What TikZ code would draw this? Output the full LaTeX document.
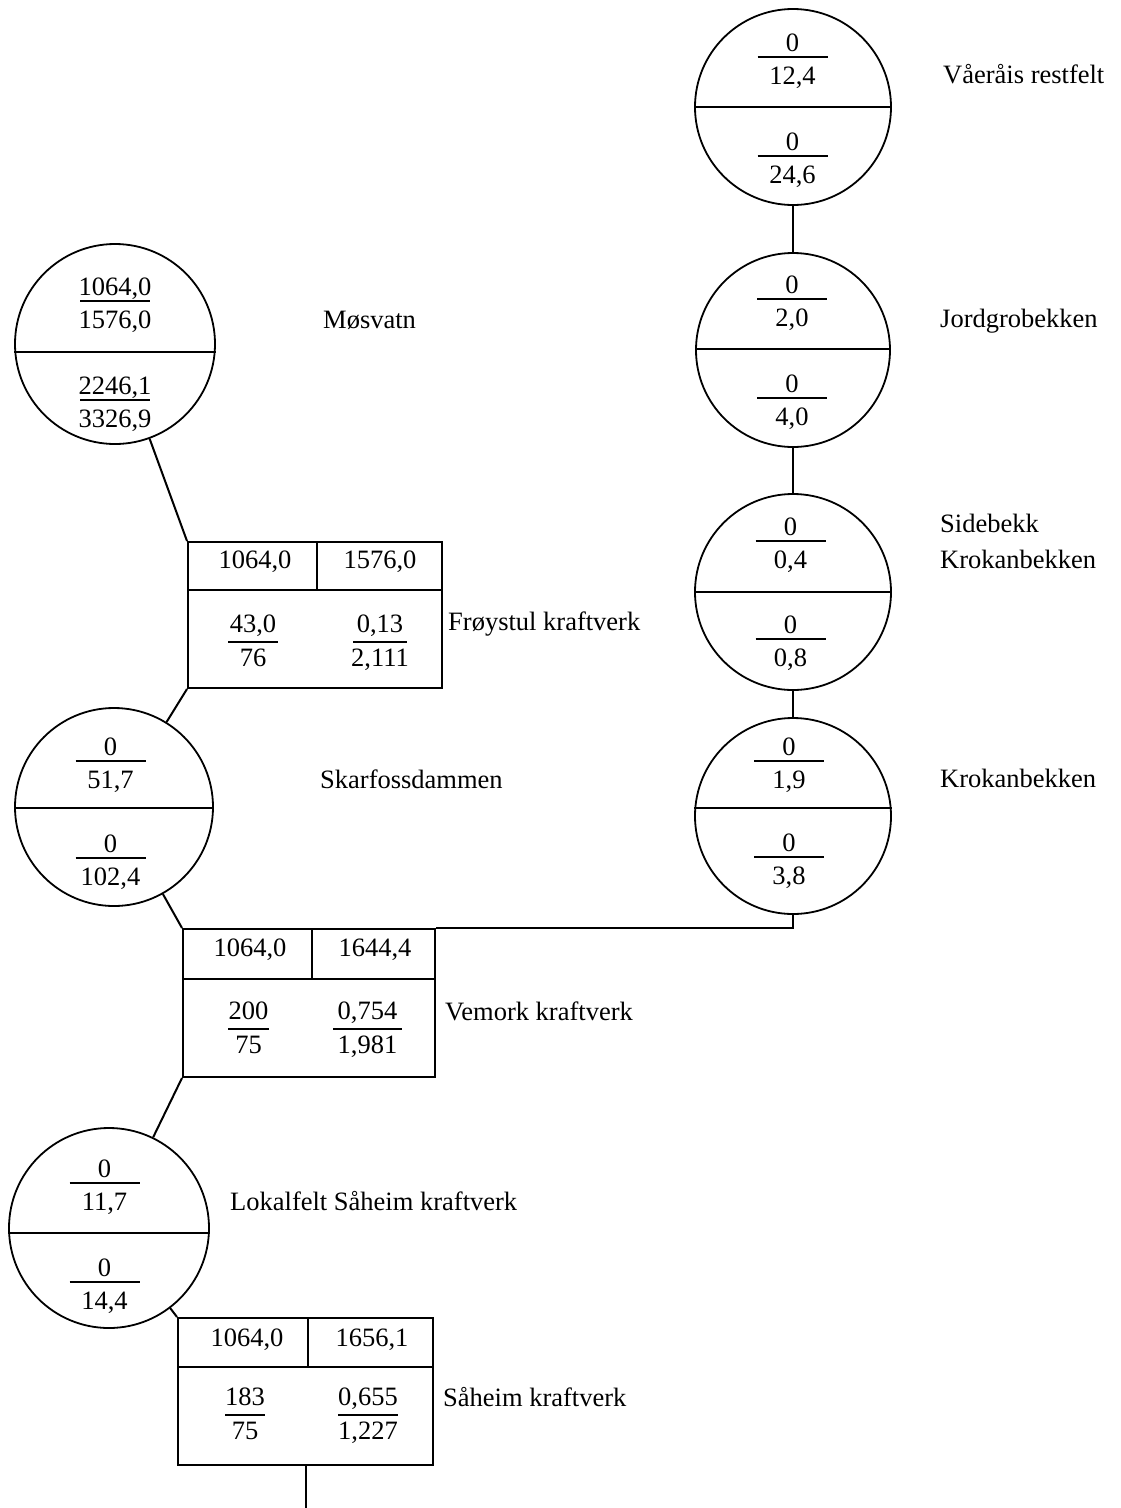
\documentclass[tikz,border=0pt]{standalone}
\usepackage{fontspec}
\setmainfont{Liberation Serif}
\usetikzlibrary{calc}
\tikzset{
  circ/.style={circle, draw, inner sep=0pt, line width=1.8pt},
  boxnode/.style={rectangle, draw, inner sep=0pt, line width=2pt},
  conn/.style={line width=2pt},
  inner/.style={line width=1.9pt},
  bar/.style={line width=2pt},
  num/.style={inner sep=0pt, anchor=base},
  lbl/.style={inner sep=0pt, anchor=base west}
}
% circle fraction: name, x, ybar, width, top, bottom
\newcommand\cfr[6]{%
  \node[num] (#1a) at (#2,#3-6) {#5};
  \node[num] (#1b) at (#2,#3+27) {#6};
  \draw[bar] (#2-#4/2,#3) -- (#2+#4/2,#3);}
% box fraction
\newcommand\bfr[6]{%
  \node[num] (#1a) at (#2,#3-10) {#5};
  \node[num] (#1b) at (#2,#3+24) {#6};
  \draw[bar] (#2-#4/2,#3) -- (#2+#4/2,#3);}
\begin{document}
\begin{tikzpicture}[x=1pt,y=-1pt,font=\fontsize{26.5}{30}\selectfont]
\useasboundingbox (0,0) rectangle (1121,1508);

% ---- circles (right chain)
\node[circ, minimum size=196pt] (vaer) at (793,107) {};
\draw[inner] (vaer.west) -- (vaer.east);
\cfr{vaerU}{792.5}{57}{70}{0}{12,4}
\cfr{vaerL}{792.5}{156}{70}{0}{24,6}
\node[lbl] (vaerT) at (943,83) {Våeråis restfelt};

\node[circ, minimum size=194pt] (jord) at (793,350) {};
\draw[inner] ([yshift=1pt]jord.west) -- ([yshift=1pt]jord.east);
\cfr{jordU}{792}{299}{70}{0}{2,0}
\cfr{jordL}{792}{398}{70}{0}{4,0}
\node[lbl] (jordT) at (940,327) {Jordgrobekken};

\node[circ, minimum size=196pt] (side) at (793,592) {};
\draw[inner] (side.west) -- (side.east);
\cfr{sideU}{790.5}{541}{70}{0}{0,4}
\cfr{sideL}{790.5}{639}{70}{0}{0,8}
\node[lbl] (sideT1) at (940,532) {Sidebekk};
\node[lbl] (sideT2) at (940,568) {Krokanbekken};

\node[circ, minimum size=196pt] (krok) at (793,816) {};
\draw[inner] ([yshift=8pt]krok.west) -- ([yshift=8pt]krok.east);
\cfr{krokU}{789}{761}{70}{0}{1,9}
\cfr{krokL}{789}{857}{70}{0}{3,8}
\node[lbl] (krokT) at (940,787) {Krokanbekken};

% ---- circles (left chain)
\node[circ, minimum size=200pt] (mos) at (115,344) {};
\draw[inner] ([yshift=-8pt]mos.west) -- ([yshift=-8pt]mos.east);
\cfr{mosU}{115}{301}{70}{1064,0}{1576,0}
\cfr{mosL}{115}{400}{70}{2246,1}{3326,9}
\node[lbl] (mosT) at (323,328) {Møsvatn};

\node[circ, minimum size=198pt] (skar) at (114,807) {};
\draw[inner] ([yshift=-1pt]skar.west) -- ([yshift=-1pt]skar.east);
\cfr{skarU}{110.5}{761}{70}{0}{51,7}
\cfr{skarL}{110.5}{858}{70}{0}{102,4}
\node[lbl] (skarT) at (320,788) {Skarfossdammen};

\node[circ, minimum size=200pt] (lok) at (109,1228) {};
\draw[inner] ([yshift=-5pt]lok.west) -- ([yshift=-5pt]lok.east);
\cfr{lokU}{104.5}{1183}{70}{0}{11,7}
\cfr{lokL}{104.5}{1282}{70}{0}{14,4}
\node[lbl] (lokT) at (230,1210) {Lokalfelt Såheim kraftverk};

% ---- power stations
\node[boxnode, minimum width=254pt, minimum height=146pt] (froy) at (315,615) {};
\draw[inner] (188,590) -- (442,590);
\draw[inner] (317,542) -- (317,590);
\node[num] (froyH1) at (255,568.5) {1064,0};
\node[num] (froyH2) at (380,568.5) {1576,0};
\bfr{froyF1}{253}{642}{50}{43,0}{76}
\bfr{froyF2}{380}{642}{54}{0,13}{2,111}
\node[lbl] (froyT) at (448,630) {Frøystul kraftverk};

\node[boxnode, minimum width=252pt, minimum height=148pt] (vem) at (309,1003) {};
\draw[inner] (183,979) -- (435,979);
\draw[inner] (312,929) -- (312,979);
\node[num] (vemH1) at (250,956.5) {1064,0};
\node[num] (vemH2) at (375,956.5) {1644,4};
\bfr{vemF1}{248.5}{1029}{41}{200}{75}
\bfr{vemF2}{367.5}{1029}{69}{0,754}{1,981}
\node[lbl] (vemT) at (445,1020) {Vemork kraftverk};

\node[boxnode, minimum width=255pt, minimum height=147pt] (sah) at (305.5,1391.5) {};
\draw[inner] (178,1367) -- (433,1367);
\draw[inner] (308,1318) -- (308,1367);
\node[num] (sahH1) at (247,1346.5) {1064,0};
\node[num] (sahH2) at (372,1346.5) {1656,1};
\bfr{sahF1}{245}{1415}{40}{183}{75}
\bfr{sahF2}{368}{1415}{60}{0,655}{1,227}
\node[lbl] (sahT) at (443,1406) {Såheim kraftverk};

% ---- connectors
\draw[conn] (vaer.south) -- (jord.north);
\draw[conn] (jord.south) -- (side.north);
\draw[conn] (side.south) -- (krok.north);
\draw[conn] (krok.south) |- (vem.north east);
\draw[conn] (mos) -- (froy.north west);
\draw[conn] (froy.south west) -- (skar);
\draw[conn] (skar) -- (vem.north west);
\draw[conn] (vem.south west) -- (lok);
\draw[conn] (lok) -- (sah.north west);
\coordinate (out) at (305.5,1508);
\draw[conn] (sah.south) -- (out);
\end{tikzpicture}
\end{document}
